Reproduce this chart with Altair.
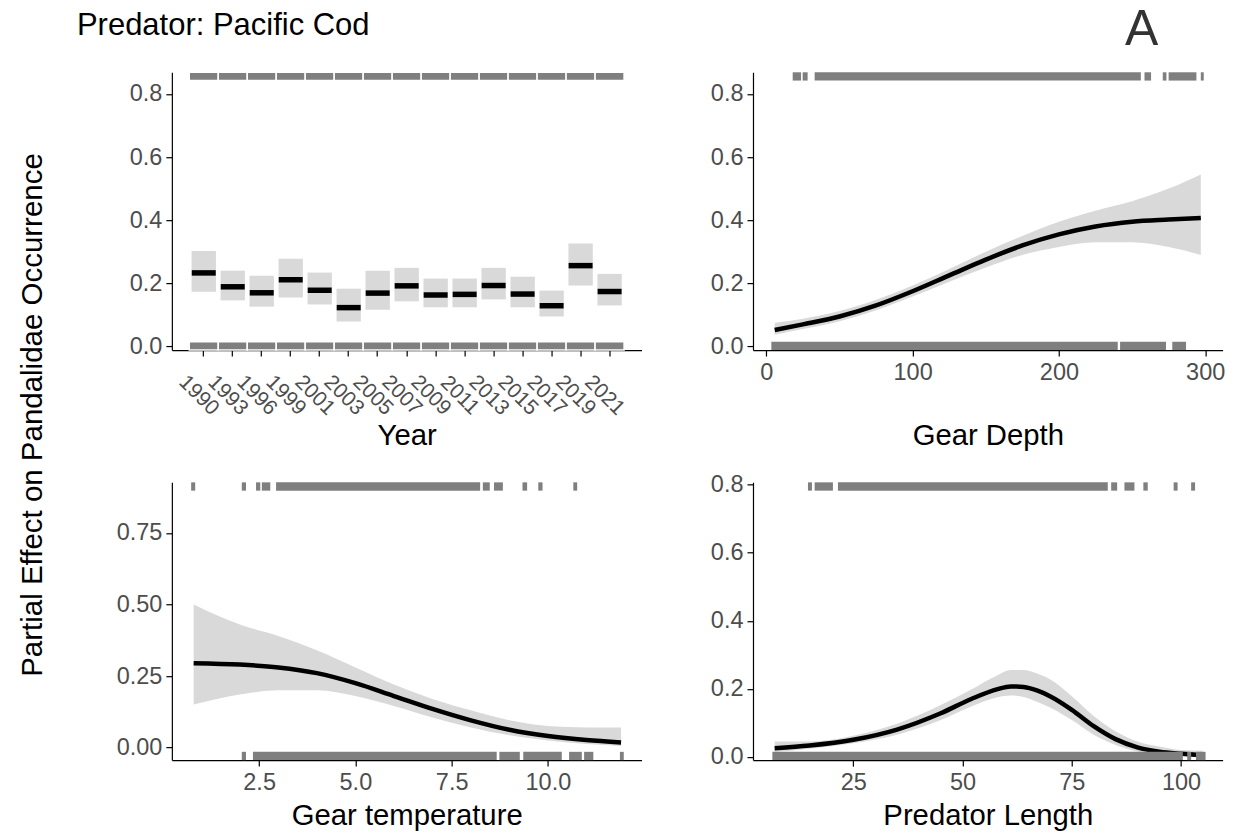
import altair as alt
import pandas as pd

FONT = "Liberation Sans"
RUG = "#7f7f7f"
BAND = "#d9d9d9"
W, H = 470, 278
RUG_LEN = 8.3

# ---------------- data ----------------
years = ["1990", "1993", "1996", "1999", "2001", "2003", "2005", "2007",
         "2009", "2011", "2013", "2015", "2017", "2019", "2021"]
year_fit = [0.233, 0.189, 0.170, 0.211, 0.178, 0.123, 0.169, 0.192,
            0.163, 0.165, 0.193, 0.166, 0.129, 0.256, 0.174]
year_lo = [0.173, 0.146, 0.126, 0.155, 0.133, 0.079, 0.116, 0.143,
           0.124, 0.124, 0.149, 0.124, 0.095, 0.193, 0.130]
year_hi = [0.302, 0.240, 0.224, 0.278, 0.234, 0.183, 0.240, 0.249,
           0.215, 0.215, 0.249, 0.221, 0.177, 0.326, 0.230]

depth_x = [5.7, 25, 50, 75, 100, 125, 150, 175, 200, 225, 250, 275, 297]
depth_fit = [0.052, 0.070, 0.095, 0.130, 0.175, 0.225, 0.275, 0.320, 0.355, 0.380, 0.395, 0.402, 0.407]
depth_lo = [0.037, 0.055, 0.080, 0.115, 0.158, 0.205, 0.250, 0.290, 0.315, 0.330, 0.330, 0.315, 0.290]
depth_hi = [0.075, 0.088, 0.112, 0.148, 0.193, 0.245, 0.300, 0.350, 0.395, 0.430, 0.460, 0.500, 0.545]
depth_rug_top_from = [18.0, 24.8, 33.0, 258.5, 271.0, 275.0, 297.0]
depth_rug_top_to = [23.7, 28.2, 256.0, 263.0, 273.5, 294.0, 299.0]
depth_rug_bot_from = [3.4, 241.8, 277.5]
depth_rug_bot_to = [240.2, 273.2, 286.9]

temp_x = [0.8, 2.0, 3.0, 4.0, 5.0, 6.0, 7.0, 8.0, 9.0, 10.0, 11.0, 11.9]
temp_fit = [0.295, 0.290, 0.280, 0.260, 0.225, 0.180, 0.135, 0.095, 0.062, 0.040, 0.026, 0.018]
temp_lo = [0.150, 0.185, 0.200, 0.200, 0.180, 0.145, 0.105, 0.070, 0.043, 0.025, 0.012, 0.005]
temp_hi = [0.500, 0.430, 0.390, 0.340, 0.280, 0.220, 0.170, 0.130, 0.095, 0.075, 0.070, 0.070]
temp_rug_top_from = [0.735, 2.05, 2.42, 2.57, 2.94, 8.31, 8.60, 9.34, 9.75, 10.66]
temp_rug_top_to = [0.84, 2.16, 2.53, 2.79, 8.24, 8.49, 8.83, 9.46, 9.86, 10.76]
temp_rug_bot_from = [2.05, 2.34, 8.74, 9.36, 10.55, 10.94, 11.87]
temp_rug_bot_to = [2.16, 8.67, 9.27, 10.36, 10.88, 11.18, 11.97]

len_x = [7, 15, 25, 35, 45, 52, 58, 61, 64, 67, 70, 75, 80, 85, 90, 95, 100, 105]
len_fit = [0.025, 0.033, 0.050, 0.080, 0.128, 0.170, 0.199, 0.207, 0.205, 0.195, 0.178, 0.138, 0.090, 0.052, 0.028, 0.015, 0.009, 0.005]
len_lo = [0.015, 0.024, 0.040, 0.065, 0.108, 0.148, 0.175, 0.180, 0.176, 0.162, 0.145, 0.108, 0.065, 0.035, 0.016, 0.008, 0.003, 0.002]
len_hi = [0.045, 0.045, 0.062, 0.097, 0.152, 0.198, 0.240, 0.255, 0.255, 0.245, 0.228, 0.178, 0.120, 0.075, 0.045, 0.030, 0.020, 0.018]
len_rug_top_from = [14.62, 16.15, 21.48, 84.0, 87.04, 91.37, 98.3, 102.3]
len_rug_top_to = [15.53, 20.33, 83.22, 85.37, 89.33, 92.37, 99.2, 103.2]
len_rug_bot_from = [6.48, 101.4, 103.4]
len_rug_bot_to = [100.4, 102.3, 105.6]

title_text = "Predator: Pacific Cod"
ytitle_text = "Partial Effect on Pandalidae Occurrence"
tag_text = "A"


# ---------------- helpers ----------------
def rugs(top_from, top_to, bot_from, bot_to, xscale):
    dtop = pd.DataFrame({"a": top_from, "b": top_to})
    dbot = pd.DataFrame({"a": bot_from, "b": bot_to})
    t = alt.Chart(dtop).mark_rect(color=RUG).encode(
        x=alt.X("a:Q", scale=xscale), x2="b:Q",
        y=alt.value(0), y2=alt.value(RUG_LEN))
    b = alt.Chart(dbot).mark_rect(color=RUG).encode(
        x=alt.X("a:Q", scale=xscale), x2="b:Q",
        y=alt.value(H - RUG_LEN), y2=alt.value(H))
    return t, b


def smooth_panel(xs, fit, lo, hi, xscale, yscale, xaxis, yaxis, rug):
    df = pd.DataFrame({"x": xs, "fit": fit, "lo": lo, "hi": hi})
    base = alt.Chart(df)
    band = base.mark_area(color=BAND, interpolate="monotone").encode(
        x=alt.X("x:Q", scale=xscale, axis=xaxis),
        y=alt.Y("lo:Q", scale=yscale, axis=yaxis),
        y2="hi:Q")
    line = base.mark_line(color="black", strokeWidth=4.5, interpolate="monotone").encode(
        x=alt.X("x:Q", scale=xscale), y=alt.Y("fit:Q", scale=yscale))
    return alt.layer(band, line, *rug).properties(width=W, height=H)


TY_TOP = 95
TY_BOT = 64

# ---------------- panel 1 : Year ----------------
ydf = pd.DataFrame({"year": years, "fit": year_fit, "lo": year_lo, "hi": year_hi})
xs_year = alt.Scale(type="band", domain=years, paddingInner=0, paddingOuter=0.6)
ys1 = alt.Scale(domain=[-0.0114, 0.8685], nice=False, zero=False)
yax1 = alt.Axis(values=[0, 0.2, 0.4, 0.6, 0.8], format=".1f", title=None)

p1_ci = alt.Chart(ydf).mark_bar(color=BAND, width=alt.RelativeBandSize(0.84)).encode(
    x=alt.X("year:O", scale=xs_year, sort=years,
            axis=alt.Axis(title="Year", labelAngle=45, labelAlign="center",
                          labelBaseline="middle", labelPadding=39, labelOffset=-5,
                          labelFontSize=21, titleY=TY_TOP, titleBaseline="alphabetic")),
    y=alt.Y("lo:Q", scale=ys1, axis=yax1), y2="hi:Q")
p1_fit = alt.Chart(ydf).mark_tick(color="black", opacity=1, thickness=5.5, size=24).encode(
    x=alt.X("year:O", scale=xs_year, sort=years),
    y=alt.Y("fit:Q", scale=ys1))
p1_rug_t = alt.Chart(ydf).mark_rect(color=RUG, stroke="white", strokeWidth=1.5).encode(
    x=alt.X("year:O", scale=xs_year, sort=years), y=alt.value(0), y2=alt.value(RUG_LEN))
p1_rug_b = alt.Chart(ydf).mark_rect(color=RUG, stroke="white", strokeWidth=1.5).encode(
    x=alt.X("year:O", scale=xs_year, sort=years), y=alt.value(H - RUG_LEN), y2=alt.value(H))

txt = pd.DataFrame({"t": [title_text]})
ytxt = pd.DataFrame({"t": [ytitle_text]})
title_mark = alt.Chart(txt).mark_text(font=FONT, fontSize=31, color="black",
                                      align="left", baseline="middle").encode(
    text="t:N", x=alt.value(-95), y=alt.value(-46.5))
ytitle_mark = alt.Chart(ytxt).mark_text(font=FONT, fontSize=29.5, color="black", angle=270,
                                        align="center", baseline="middle").encode(
    text="t:N", x=alt.value(-139), y=alt.value(343))
# invisible layout anchor: fixes the top edge of the whole figure
anchor = alt.Chart(txt).mark_rect(opacity=0).encode(
    x=alt.value(0), x2=alt.value(1), y=alt.value(-76.7), y2=alt.value(-75))

p1 = alt.layer(p1_ci, p1_fit, p1_rug_t, p1_rug_b, title_mark, ytitle_mark, anchor).properties(
    width=W, height=H)

# ---------------- panel 2 : Depth ----------------
xs2 = alt.Scale(domain=[-9.15, 311.9], nice=False, zero=False)
p2 = smooth_panel(depth_x, depth_fit, depth_lo, depth_hi, xs2, ys1,
                  alt.Axis(title="Gear Depth", values=[0, 100, 200, 300], titleY=TY_TOP,
                           titleBaseline="alphabetic"),
                  yax1, rugs(depth_rug_top_from, depth_rug_top_to,
                             depth_rug_bot_from, depth_rug_bot_to, xs2))
tag = alt.Chart(pd.DataFrame({"t": [tag_text]})).mark_text(
    font=FONT, fontSize=50, color="#333333", align="center", baseline="alphabetic").encode(
    text="t:N", x=alt.value(389), y=alt.value(-27))
p2 = alt.layer(p2, tag)

# ---------------- panel 3 : Temperature ----------------
xs3 = alt.Scale(domain=[0.234, 12.43], nice=False, zero=False)
ys3 = alt.Scale(domain=[-0.044, 0.927], nice=False, zero=False)
p3 = smooth_panel(temp_x, temp_fit, temp_lo, temp_hi, xs3, ys3,
                  alt.Axis(title="Gear temperature", values=[2.5, 5.0, 7.5, 10.0], format=".1f",
                           titleY=TY_BOT, titleBaseline="alphabetic"),
                  alt.Axis(values=[0, 0.25, 0.5, 0.75], format=".2f", title=None),
                  rugs(temp_rug_top_from, temp_rug_top_to, temp_rug_bot_from, temp_rug_bot_to, xs3))

# ---------------- panel 4 : Length ----------------
xs4 = alt.Scale(domain=[2.04, 109.5], nice=False, zero=False)
ys4 = alt.Scale(domain=[-0.0097, 0.8068], nice=False, zero=False)
p4 = smooth_panel(len_x, len_fit, len_lo, len_hi, xs4, ys4,
                  alt.Axis(title="Predator Length", values=[25, 50, 75, 100], titleY=TY_BOT,
                           titleBaseline="alphabetic"),
                  alt.Axis(values=[0, 0.2, 0.4, 0.6, 0.8], format=".1f", title=None),
                  rugs(len_rug_top_from, len_rug_top_to, len_rug_bot_from, len_rug_bot_to, xs4))

chart = alt.concat(p1, p2, p3, p4, columns=2,
                   spacing={"row": 132.4, "column": 111.6}, bounds="flush").properties(
    padding={"left": 10, "top": -13, "right": 0, "bottom": 0}
).configure_view(stroke=None).configure_axis(
    domainColor="black", domainWidth=1.2, tickColor="black", tickWidth=1.2, tickSize=6,
    labelColor="#4d4d4d", labelFont=FONT, labelFontSize=23.5, labelPadding=4,
    titleFont=FONT, titleFontSize=29.3, titleFontWeight="normal", titleColor="black", grid=False
)

chart.save("out.html", embed_options={"renderer": "svg", "actions": False})
